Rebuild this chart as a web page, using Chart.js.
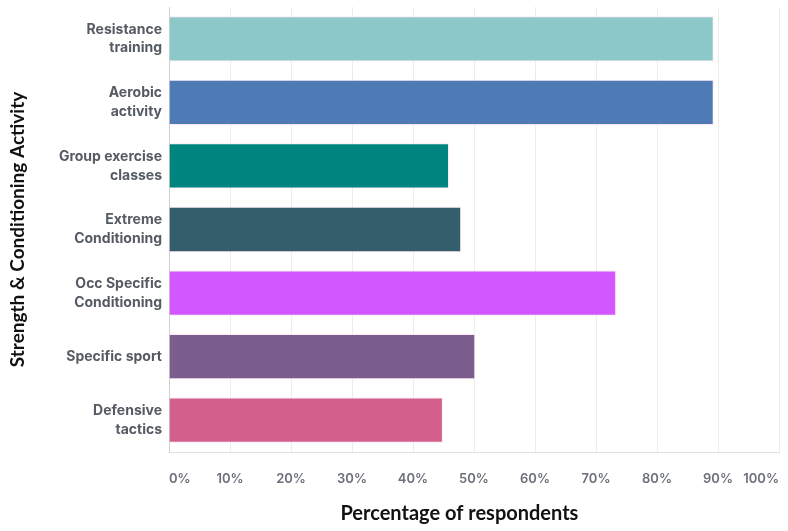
<!DOCTYPE html>
<html>
<head>
<meta charset="utf-8">
<script src="https://cdn.jsdelivr.net/npm/chart.js@4"></script>
<style>
  html, body { margin: 0; padding: 0; background: #fff; }
  #wrap { width: 788px; height: 531px; }
</style>
</head>
<body>
<div id="wrap"><canvas id="chart"></canvas></div>
<script>
const categories = [
    ['Resistance', 'training'],
    ['Aerobic', 'activity'],
    ['Group exercise', 'classes'],
    ['Extreme', 'Conditioning'],
    ['Occ Specific', 'Conditioning'],
    'Specific sport',
    ['Defensive', 'tactics'],
];
const percentages = [89.3, 89.3, 45.9, 47.9, 73.3, 50.2, 44.9];
const barColors = ['#8dc8c8', '#4e7bb5', '#00847f', '#345e6b', '#d257fe', '#7c5e8e', '#d35f8d'];
const xTicks = [0, 10, 20, 30, 40, 50, 60, 70, 80, 90, 100];

const ctx = document.getElementById('chart').getContext('2d');

new Chart(ctx, {
    type: 'bar',
    data: {
        labels: categories,
        datasets: [{
            data: percentages,
            backgroundColor: barColors,
            borderColor: 'rgba(255, 225, 240, 0.8)',
            borderWidth: 1,
            barPercentage: 0.8,
            categoryPercentage: 0.89
        }]
    },
    options: {
        indexAxis: 'y',
        responsive: true,
        maintainAspectRatio: false,
        animation: false,
        layout: {
            padding: { top: 7, right: 9, left: 6, bottom: 5 }
        },
        plugins: {
            legend: { display: false },
            tooltip: { enabled: false }
        },
        scales: {
            x: {
                min: 0,
                max: 100,
                afterBuildTicks: (axis) => {
                    axis.ticks = xTicks.map(v => ({ value: v }));
                },
                afterFit: (axis) => {
                    axis.paddingLeft = 0;
                    axis.paddingRight = 0;
                    axis.height = 74;
                },
                grid: {
                    color: '#ececec',
                    drawTicks: false
                },
                border: { color: '#e0e0e0' },
                ticks: {
                    align: 'inner',
                    padding: 19,
                    color: '#6b6f78',
                    font: { family: 'Inter', size: 13, weight: '600' },
                    callback: (v) => v + '%'
                },
                title: {
                    display: true,
                    // trailing spaces nudge the centred title a bit to the left, like the original
                    text: 'Percentage of respondents      ',
                    color: '#111',
                    font: { family: 'Lato', size: 20, weight: 'bold' },
                    padding: { top: 0, bottom: 0 }
                }
            },
            y: {
                afterFit: (axis) => {
                    axis.paddingTop = 0;
                    axis.paddingBottom = 0;
                    axis.width = 163;
                },
                grid: { display: false, drawTicks: false },
                border: { color: '#d0d0d0' },
                ticks: {
                    padding: 7,
                    color: '#555a63',
                    font: { family: 'Inter', size: 14, weight: 'bold', lineHeight: 1.35 }
                },
                title: {
                    display: true,
                    text: 'Strength & Conditioning Activity',
                    color: '#111',
                    font: { family: 'Lato', size: 19, weight: 'bold' },
                    padding: { top: 0, bottom: 0 }
                }
            }
        }
    }
});
</script>
</body>
</html>
